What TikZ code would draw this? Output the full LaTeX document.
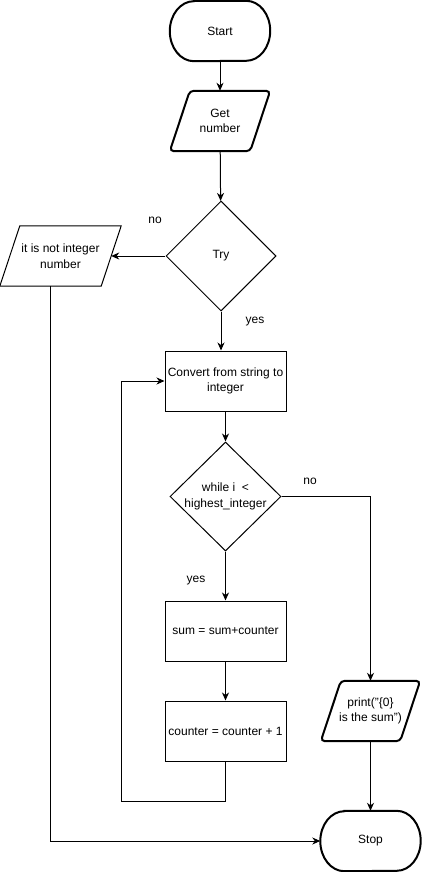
\documentclass[tikz,border=0pt]{standalone}
\usepackage{fontspec}
\setmainfont{Liberation Sans}
\usetikzlibrary{shapes.geometric,arrows.meta,calc}
\begin{document}
\begin{tikzpicture}[x=1pt,y=-1pt,
  every node/.style={font=\fontsize{12pt}{15.5pt}\selectfont, align=center, inner sep=0pt},
  box/.style={draw, line width=1pt, minimum width=121pt, minimum height=60pt},
  ghost/.style={minimum width=#1, minimum height=60pt},
  thinline/.style={line width=1pt},
  thickline/.style={line width=2pt},
  dia/.style={draw, diamond, line width=1pt, minimum width=110pt, minimum height=110pt},
  arr/.style={line width=1pt, -{Stealth[length=8pt,width=7pt,inset=2.5pt]}}
]
\useasboundingbox (0,0) rectangle (422,872);

% Start terminal
\node[ghost=100pt] (start) at (220,31) {Start};
\draw[thickline] ([xshift=24pt]start.north west) -- ([xshift=-24pt]start.north east)
  arc[start angle=90,end angle=-90,x radius=24pt,y radius=30pt]
  -- ([xshift=24pt]start.south west)
  arc[start angle=270,end angle=90,x radius=24pt,y radius=30pt] -- cycle;

% Get number
\node[ghost=80pt] (get) at (220,121) {Get\\number};
\draw[thickline, rounded corners=4pt] ([xshift=10pt]get.north west) -- ([xshift=10pt]get.north east)
  -- ([xshift=-10pt]get.south east) -- ([xshift=-10pt]get.south west) -- cycle;

% Try
\node[dia] (try) at (221,256) {};
\node (trytext) at (try) {Try};

% not integer
\node[ghost=101pt] (notint) at (60.5,256) {it is not integer\\number};
\draw[thinline] ([xshift=10pt]notint.north west) -- ([xshift=10pt]notint.north east)
  -- ([xshift=-10pt]notint.south east) -- ([xshift=-10pt]notint.south west) -- cycle;

% Convert
\node[box] (conv) at (225.5,381) {Convert from string to\\integer};

% while
\node[dia, minimum width=111pt, minimum height=109pt] (wh) at (225.5,496.5) {};
\node (whtext) at (wh) {while i~~<\\highest\_integer};

% sum, counter
\node[box] (sum) at (225.5,631) {sum = sum+counter};
\node[box] (counter) at (225.5,731) {counter = counter + 1};

% print
\node[ghost=79pt] (print) at (370.5,711) {print("\{0\}\\is the sum")};
\draw[thickline, rounded corners=4pt] ([xshift=10pt]print.north west) -- ([xshift=10pt]print.north east)
  -- ([xshift=-10pt]print.south east) -- ([xshift=-10pt]print.south west) -- cycle;

% Stop terminal
\node[ghost=100pt] (stop) at (370.5,841) {Stop};
\draw[thickline] ([xshift=24pt]stop.north west) -- ([xshift=-24pt]stop.north east)
  arc[start angle=90,end angle=-90,x radius=24pt,y radius=30pt]
  -- ([xshift=24pt]stop.south west)
  arc[start angle=270,end angle=90,x radius=24pt,y radius=30pt] -- cycle;

% connectors
\draw[arr] (start) -- (get);
\draw[arr] (get) -- (try);
\draw[arr] (try) -- (notint);
\draw[arr] (try.south) -- (try.south |- conv.north);
\draw[arr] (conv) -- (wh);
\draw[arr] (wh.east) -| (print.north);
\draw[arr] (wh) -- (sum);
\draw[arr] (sum) -- (counter);
\coordinate (loopc) at (121,801);
\draw[arr] (counter.south) |- (loopc) |- (conv.west);
\draw[arr] (print) -- (stop);
\coordinate (nbot) at ([xshift=-10pt]notint.south);
\draw[arr] (nbot) |- (stop.west);

% labels
\node (l1) at (155,220) {no};
\node (l2) at (255,322) {yes};
\node (l3) at (310,481) {no};
\node (l4) at (196,581) {yes};
\end{tikzpicture}
\end{document}
